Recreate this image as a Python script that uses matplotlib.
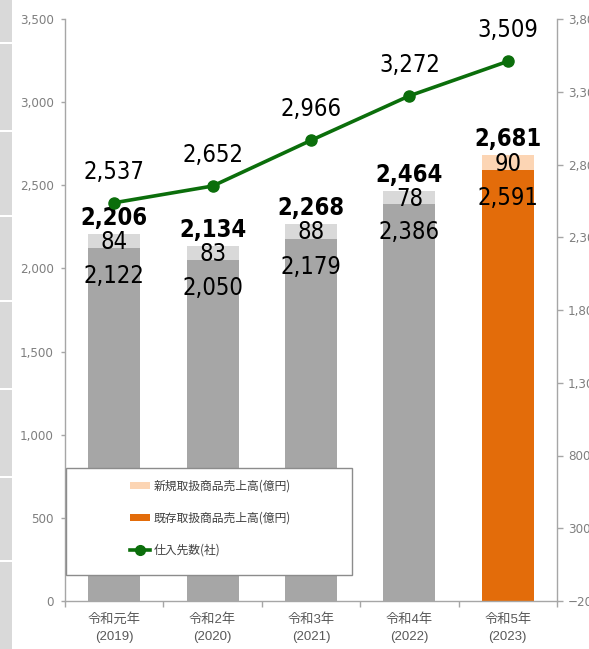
import matplotlib
matplotlib.use("Agg")
import matplotlib.pyplot as plt
from matplotlib import font_manager
from matplotlib.font_manager import FontProperties
from matplotlib.patches import Patch, Rectangle
from matplotlib.lines import Line2D
from matplotlib.ticker import FixedLocator, FuncFormatter

# ---------------- data ----------------
categories = ["令和元年\n(2019)", "令和2年\n(2020)", "令和3年\n(2021)", "令和4年\n(2022)", "令和5年\n(2023)"]
existing_sales = [2122, 2050, 2179, 2386, 2591]
new_sales = [84, 83, 88, 78, 90]
total_sales = [2206, 2134, 2268, 2464, 2681]
suppliers = [2537, 2652, 2966, 3272, 3509]
legend_labels = ["新規取扱商品売上高(億円)", "既存取扱商品売上高(億円)", "仕入先数(社)"]

# ---------------- fonts ----------------
def find_condensed(bold=False):
    best = None
    for f in font_manager.fontManager.ttflist:
        nm = f.name.lower()
        st = str(f.stretch).lower()
        fn = f.fname.lower()
        cond = ("narrow" in nm or "condensed" in nm or "condensed" in st
                or "narrow" in fn or "condensed" in fn)
        if not cond:
            continue
        if "oblique" in fn or "italic" in fn or str(f.style) != "normal":
            continue
        isbold = (str(f.weight) in ("bold", "700") or "bold" in fn)
        if isbold != bold:
            continue
        if "mono" in nm or "serif" in nm and "sans" not in nm:
            continue
        if "liberation" in nm:
            score = 3
        elif "dejavu" in nm:
            score = 2
        else:
            score = 1
        if best is None or score > best[0]:
            best = (score, f.fname)
    return best[1] if best else None

reg_file = find_condensed(False)
bold_file = find_condensed(True)
CJK = "Noto Sans CJK JP"
plt.rcParams["font.family"] = ["Liberation Sans", CJK, "DejaVu Sans"]

def numfont(size, bold=False):
    fn = bold_file if bold else reg_file
    if fn:
        return FontProperties(fname=fn, size=size)
    return FontProperties(family="Liberation Sans", size=size * 0.85,
                          weight="bold" if bold else "normal")

GRAY = "#a6a6a6"
LGRAY = "#d9d9d9"
ORANGE = "#e36c0a"
PEACH = "#fcd5b4"
GREEN = "#0b6e0b"
AXC = "#a6a6a6"
TXC = "#7f7f7f"

fig = plt.figure(figsize=(5.89, 6.49), dpi=100)

# left decorative strip
gaps = [0, 42, 130, 215, 300, 388, 476, 560, 649]
for i in range(len(gaps) - 1):
    y0 = gaps[i] + (2 if i > 0 else 0)
    y1 = gaps[i + 1]
    fig.patches.append(Rectangle((0, 1 - y1 / 649), 12 / 589, (y1 - y0) / 649,
                                 transform=fig.transFigure, facecolor="#d9d9d9",
                                 edgecolor="none", zorder=0))

ax = fig.add_axes([65 / 589, 1 - 601 / 649, (557 - 65) / 589, (601 - 19) / 649])
ax2 = ax.twinx()

x = list(range(len(categories)))
ex_colors = [GRAY] * 4 + [ORANGE]
new_colors = [LGRAY] * 4 + [PEACH]
w = 0.53
ax.bar(x, existing_sales, width=w, color=ex_colors, zorder=2)
ax.bar(x, new_sales, bottom=existing_sales, width=w, color=new_colors, zorder=2)

ax.set_xlim(-0.5, 4.5)
ax.set_ylim(0, 3500)
ax2.set_ylim(-200, 3800)

ax2.plot(x, suppliers, color=GREEN, lw=2.6, marker="o", ms=8, zorder=5)

LS = 17
for i in x:
    ax.annotate(f"{total_sales[i]:,}", (i, existing_sales[i] + new_sales[i]),
                xytext=(0, 16), textcoords="offset pixels", ha="center", va="center",
                fontproperties=numfont(LS, True), color="black", zorder=10)
    ax.annotate(f"{new_sales[i]:,}", (i, existing_sales[i] + new_sales[i] / 2),
                xytext=(0, -1), textcoords="offset pixels", ha="center", va="center",
                fontproperties=numfont(LS), color="black", zorder=10)
    ax.annotate(f"{existing_sales[i]:,}", (i, existing_sales[i]),
                xytext=(0, -28), textcoords="offset pixels", ha="center", va="center",
                fontproperties=numfont(LS), color="black", zorder=10)
    ax2.annotate(f"{suppliers[i]:,}", (i, suppliers[i]),
                 xytext=(0, 31), textcoords="offset pixels", ha="center", va="center",
                 fontproperties=numfont(LS), color="black", zorder=10)

for a in (ax, ax2):
    a.spines["top"].set_visible(False)
    for s in ("left", "right", "bottom"):
        a.spines[s].set_color(AXC)
        a.spines[s].set_linewidth(1.0)
ax.spines["right"].set_visible(False)
ax2.spines["left"].set_visible(False)
ax2.spines["bottom"].set_visible(False)

ax.set_yticks(range(0, 3501, 500))
ax.yaxis.set_major_formatter(FuncFormatter(lambda v, p: f"{int(v):,}"))
ax2.set_yticks(range(-200, 3801, 500))
ax2.yaxis.set_major_formatter(FuncFormatter(lambda v, p: f"{int(v):,}".replace("-", "−")))
ax.tick_params(axis="y", direction="out", length=3, width=1, color=AXC, labelcolor=TXC, pad=5)
ax2.tick_params(axis="y", direction="out", length=4, width=1, color=AXC, labelcolor=TXC, pad=4)
for t in ax.get_yticklabels() + ax2.get_yticklabels():
    t.set_fontproperties(numfont(9.5))

ax.set_xticks(x)
ax.set_xticklabels(categories, fontsize=9.5, color="#595959", linespacing=1.5)
ax.xaxis.set_minor_locator(FixedLocator([-0.5, 0.5, 1.5, 2.5, 3.5, 4.5]))
ax.tick_params(axis="x", which="major", length=0, pad=9)
ax.tick_params(axis="x", which="minor", direction="out", length=4, width=1, color=AXC)

ax2.add_patch(Rectangle((0.002, (601 - 575) / 582), (352 - 66) / 492, (575 - 468) / 582,
                        transform=ax.transAxes, facecolor="white", edgecolor="#8c8c8c",
                        lw=1.0, zorder=20))
handles = [Patch(facecolor=PEACH, edgecolor="none"),
           Patch(facecolor=ORANGE, edgecolor="none"),
           Line2D([0], [0], color=GREEN, lw=2.6, marker="o", ms=7)]
leg = ax2.legend(handles, legend_labels, loc="upper left",
                 bbox_to_anchor=((124 - 65) / 492, (601 - 474) / 582),
                 frameon=False, handlelength=1.7, handleheight=0.55, handletextpad=0.3,
                 labelspacing=1.6, prop={"family": [CJK], "size": 8.5}, borderpad=0)
leg.set_zorder(30)
for t in leg.get_texts():
    t.set_color("#404040")

fig.savefig("out.png", dpi=100)
